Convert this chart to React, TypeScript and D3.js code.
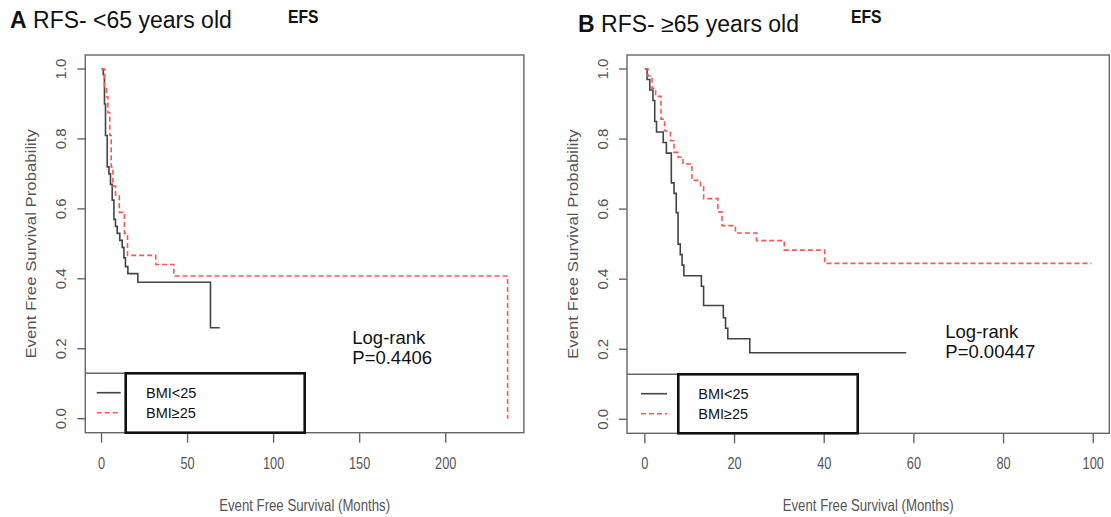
import * as d3 from 'd3';
import React from 'react';

type Step = [number, number];

// Kaplan-Meier steps [months, survival]
// panel A: <65 years old
const aLowBmi: Step[] = [
  [1.0, 0.984], [1.7, 0.9], [2.3, 0.81], [3.3, 0.72], [4.3, 0.7], [5.2, 0.67],
  [6.2, 0.625], [7.2, 0.57], [8.1, 0.55], [9.1, 0.53], [10.6, 0.51], [12, 0.49],
  [13, 0.46], [13.9, 0.435], [15.3, 0.415], [21.1, 0.39], [63.3, 0.26],
];
const aLowBmiEnd = 68.7;
const aHighBmi: Step[] = [
  [1.7, 0.95], [2.9, 0.92], [3.7, 0.875], [4.8, 0.81], [5.6, 0.72], [6.6, 0.665],
  [8.1, 0.64], [10.3, 0.59], [13.3, 0.53], [15.1, 0.467], [31.5, 0.441], [42, 0.408],
  [236, 0],
];
const aHighBmiEnd = 236;

// panel B: >=65 years old
const bLowBmi: Step[] = [
  [0.5, 0.97], [1.1, 0.94], [1.8, 0.91], [2.2, 0.85], [2.6, 0.82], [4.1, 0.79],
  [4.8, 0.76], [5.9, 0.675], [6.5, 0.645], [7.0, 0.59], [7.4, 0.5], [7.9, 0.47],
  [8.3, 0.44], [8.7, 0.41], [12.6, 0.38], [13.1, 0.325], [17.5, 0.29], [18.0, 0.26],
  [18.5, 0.23], [23.4, 0.19],
];
const bLowBmiEnd = 58.3;
const bHighBmi: Step[] = [
  [0.7, 0.98], [1.6, 0.945], [2.4, 0.922], [3.6, 0.857], [4.4, 0.823], [5.7, 0.795],
  [6.5, 0.762], [7.4, 0.748], [8.5, 0.729], [10.5, 0.682], [12.4, 0.664], [13.1, 0.63],
  [16.3, 0.592], [17.2, 0.553], [20.2, 0.532], [24.9, 0.51], [31.1, 0.483], [40.1, 0.445],
];
const bHighBmiEnd = 99.6;

const aXTicks = [0, 50, 100, 150, 200];
const bXTicks = [0, 20, 40, 60, 80, 100];
const yTicks = [0, 0.2, 0.4, 0.6, 0.8, 1.0];
const legendLabels = ['BMI<25', 'BMI\u226525'];
const aTitle = ['A', ' RFS- <65 years old'];
const bTitle = ['B', ' RFS- \u226565 years old'];
const pA = 'P=0.4406';
const pB = 'P=0.00447';

const FONT = '"Liberation Sans", Arial, sans-serif';
const AXIS = '#666666';
const LABEL = '#555555';
const LOW_COLOR = '#444444';
const HIGH_COLOR = '#ff5555';

type PanelCfg = {
  box: { left: number; right: number; top: number; bottom: number };
  maxT: number;
  xTicks: number[];
  low: Step[];
  lowEnd: number;
  high: Step[];
  highEnd: number;
  legend: { boxL: number; boxR: number; top: number; sx0: number; sx1: number; labelX: number };
  logRank: { x: number; y: number };
  p: string;
  title: string[];
  titleX: number;
  titleY: number;
  efsX: number;
};

const panels: PanelCfg[] = [
  {
    box: { left: 85.3, right: 523.9, top: 55, bottom: 432.7 },
    maxT: aHighBmiEnd,
    xTicks: aXTicks,
    low: aLowBmi,
    lowEnd: aLowBmiEnd,
    high: aHighBmi,
    highEnd: aHighBmiEnd,
    legend: { boxL: 125.7, boxR: 304.7, top: 373.3, sx0: 96.7, sx1: 120.7, labelX: 146 },
    logRank: { x: 352.3, y: 344.3 },
    p: pA,
    title: aTitle,
    titleX: 10,
    titleY: 27.7,
    efsX: 288,
  },
  {
    box: { left: 627, right: 1109.3, top: 55, bottom: 433.3 },
    maxT: bHighBmiEnd,
    xTicks: bXTicks,
    low: bLowBmi,
    lowEnd: bLowBmiEnd,
    high: bHighBmi,
    highEnd: bHighBmiEnd,
    legend: { boxL: 678.3, boxR: 857.7, top: 374.3, sx0: 641, sx1: 667, labelX: 698.3 },
    logRank: { x: 945.3, y: 338.3 },
    p: pB,
    title: bTitle,
    titleX: 578,
    titleY: 31.7,
    efsX: 851,
  },
];

const withEnds = (s: Step[], end: number): Step[] => [[0, 1], ...s, [end, s[s.length - 1][1]]];

function Panel({ cfg }: { cfg: PanelCfg }) {
  const { box, legend } = cfg;
  const x = d3.scaleLinear().domain([-0.04 * cfg.maxT, 1.04 * cfg.maxT]).range([box.left, box.right]);
  const y = d3.scaleLinear().domain([-0.04, 1.04]).range([box.bottom, box.top]);
  const line = d3
    .line<Step>()
    .x((d) => x(d[0]))
    .y((d) => y(d[1]))
    .curve(d3.curveStepAfter);
  const cx = (box.left + box.right) / 2;
  const cy = (box.top + box.bottom) / 2;

  return (
    <g fontFamily={FONT}>
      {/* titles */}
      <text x={cfg.titleX} y={cfg.titleY} fontSize={23} fill="#111">
        <tspan fontWeight="bold">{cfg.title[0]}</tspan>
        <tspan>{cfg.title[1]}</tspan>
      </text>
      <text
        transform={`translate(${cfg.efsX},22.7) scale(0.9,1)`}
        fontSize={17.5}
        fontWeight="bold"
        fill="#111"
      >
        EFS
      </text>

      {/* curves */}
      <path d={line(withEnds(cfg.low, cfg.lowEnd)) || ''} fill="none" stroke={LOW_COLOR} strokeWidth={1.6} />
      <path
        d={line(withEnds(cfg.high, cfg.highEnd)) || ''}
        fill="none"
        stroke={HIGH_COLOR}
        strokeWidth={1.6}
        strokeDasharray="5,3"
      />

      {/* box */}
      <rect
        x={box.left}
        y={box.top}
        width={box.right - box.left}
        height={box.bottom - box.top}
        fill="none"
        stroke={AXIS}
        strokeWidth={1.4}
      />

      {/* x axis */}
      {cfg.xTicks.map((t) => (
        <g key={t}>
          <line x1={x(t)} x2={x(t)} y1={box.bottom} y2={box.bottom + 10} stroke={AXIS} strokeWidth={1.4} />
          <text
            transform={`translate(${x(t)},${box.bottom + 36}) scale(0.75,1)`}
            textAnchor="middle"
            fontSize={17}
            fill={LABEL}
          >
            {t}
          </text>
        </g>
      ))}
      <text
        transform={`translate(${cx},${box.bottom + 78}) scale(0.8,1)`}
        textAnchor="middle"
        fontSize={16.5}
        fill={LABEL}
      >
        Event Free Survival (Months)
      </text>

      {/* y axis */}
      {yTicks.map((t) => (
        <g key={t}>
          <line x1={box.left - 8} x2={box.left} y1={y(t)} y2={y(t)} stroke={AXIS} strokeWidth={1.4} />
          <text
            transform={`translate(${box.left - 19},${y(t)}) rotate(-90)`}
            textAnchor="middle"
            fontSize={15}
            fill={LABEL}
          >
            {t.toFixed(1)}
          </text>
        </g>
      ))}
      <text
        transform={`translate(${box.left - 49},${cy}) scale(0.85,1) rotate(-90)`}
        textAnchor="middle"
        fontSize={16.8}
        fill={LABEL}
      >
        Event Free Survival Probability
      </text>

      {/* legend */}
      <line x1={box.left} x2={legend.boxL} y1={legend.top} y2={legend.top} stroke={AXIS} strokeWidth={1.4} />
      <line
        x1={legend.sx0}
        x2={legend.sx1}
        y1={legend.top + 19.4}
        y2={legend.top + 19.4}
        stroke={LOW_COLOR}
        strokeWidth={1.6}
      />
      <line
        x1={legend.sx0}
        x2={legend.sx1}
        y1={legend.top + 39.4}
        y2={legend.top + 39.4}
        stroke={HIGH_COLOR}
        strokeWidth={1.6}
        strokeDasharray="5,3"
      />
      {legendLabels.map((l, i) => (
        <text key={l} x={legend.labelX} y={legend.top + 24.6 + i * 20} fontSize={14.5} fill="#111">
          {l}
        </text>
      ))}
      <rect
        x={legend.boxL}
        y={legend.top}
        width={legend.boxR - legend.boxL}
        height={box.bottom - legend.top}
        fill="none"
        stroke="#111"
        strokeWidth={2.6}
      />

      {/* log-rank */}
      <text x={cfg.logRank.x} y={cfg.logRank.y} fontSize={18.5} fill="#111">
        Log-rank
      </text>
      <text x={cfg.logRank.x} y={cfg.logRank.y + 20} fontSize={18.5} fill="#111">
        {cfg.p}
      </text>
    </g>
  );
}

export default function App() {
  return (
    <svg
      width={1111}
      height={517}
      style={{ position: 'absolute', left: 0, top: 0, background: '#fff' }}
    >
      <rect width={1111} height={517} fill="#fff" />
      {panels.map((p, i) => (
        <Panel key={i} cfg={p} />
      ))}
    </svg>
  );
}
